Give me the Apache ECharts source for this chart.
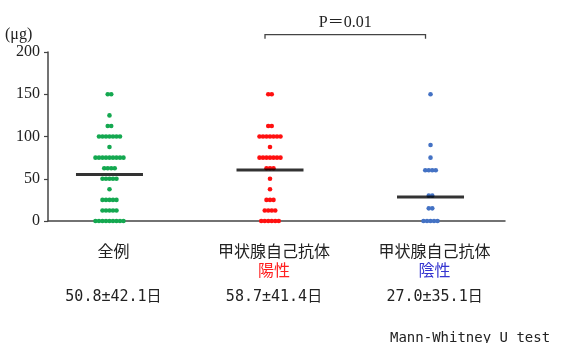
<!DOCTYPE html>
<html>
<head>
<meta charset="utf-8">
<script src="https://cdn.jsdelivr.net/npm/echarts@6/dist/echarts.min.js"></script>
<style>
html,body{margin:0;padding:0;background:#fff;}
#c{width:562px;height:343px;}
</style>
</head>
<body>
<div id="c"></div>
<script>
// ---- data ----
const categories = ['全例', '甲状腺自己抗体', '甲状腺自己抗体'];
const subLabels = ['', '陽性', '陰性'];
const statLabels = ['50.8±42.1日', '58.7±41.4日', '27.0±35.1日'];
const allValues = [
  150, 150, 125, 112.5, 112.5,
  100, 100, 100, 100, 100, 100, 100,
  87.5,
  75, 75, 75, 75, 75, 75, 75, 75, 75,
  62.5, 62.5, 62.5, 62.5,
  50, 50, 50, 50, 50,
  37.5,
  25, 25, 25, 25, 25,
  12.5, 12.5, 12.5, 12.5, 12.5,
  0, 0, 0, 0, 0, 0, 0, 0, 0
];
const positiveValues = [
  150, 150, 112.5, 112.5,
  100, 100, 100, 100, 100, 100, 100,
  87.5,
  75, 75, 75, 75, 75, 75, 75,
  62.5, 62.5, 62.5,
  50, 37.5,
  25, 25, 25,
  12.5, 12.5, 12.5, 12.5,
  0, 0, 0, 0, 0, 0
];
const negativeValues = [
  150, 90, 75,
  60, 60, 60, 60,
  30, 30,
  15, 15,
  0, 0, 0, 0, 0
];
const centerLines = [55, 60.5, 28.5];
const yMin = 0, yMax = 200, yInterval = 50;
const comparisonLabel = 'P＝0.01';
const footnote = 'Mann-Whitney U test';

// ---- layout ----
const groups = [allValues, positiveValues, negativeValues];
const colors = ['#14a850', '#ff1010', '#4472c4'];
const subColors = ['#222', '#ff2020', '#3535d0'];
const pxPerUnit = 160.5;
const stepUnits = 3.5 / pxPerUnit;

function swarm(values, gi) {
  const counts = {};
  values.forEach(v => { counts[v] = (counts[v] || 0) + 1; });
  const out = [];
  Object.keys(counts).forEach(k => {
    const n = counts[k];
    for (let j = 0; j < n; j++) {
      out.push([gi + (j - (n - 1) / 2) * stepUnits, Number(k)]);
    }
  });
  return out;
}

const chart = echarts.init(document.getElementById('c'), null, {renderer: 'canvas'});
const series = groups.map((vals, gi) => ({
  type: 'scatter',
  data: swarm(vals, gi),
  symbolSize: 4.6,
  itemStyle: {color: colors[gi], opacity: 1},
  z: 2,
  silent: true
}));
series.push({
  type: 'scatter',
  data: centerLines.map((v, i) => [i, v]),
  symbol: 'rect',
  symbolSize: [67, 3],
  itemStyle: {color: '#000'},
  z: 5,
  silent: true
});

chart.setOption({
  animation: false,
  grid: {left: 48, right: 57, top: 52, bottom: 122},
  xAxis: {
    type: 'value', min: -0.383, max: 2.464,
    axisLine: {show: true, onZero: false, lineStyle: {color: '#444', width: 1.5}},
    axisTick: {show: false}, axisLabel: {show: false}, splitLine: {show: false}
  },
  yAxis: {
    type: 'value', min: yMin, max: yMax, interval: yInterval,
    axisLine: {show: true, onZero: false, lineStyle: {color: '#444', width: 1.5}},
    axisTick: {show: true, length: 4, lineStyle: {color: '#444', width: 1.2}},
    axisLabel: {fontFamily: 'Liberation Serif', fontSize: 16, color: '#222', margin: 8},
    splitLine: {show: false}
  },
  series: series
});

const px = i => chart.convertToPixel({gridIndex: 0}, [i, 0])[0];
const py = v => chart.convertToPixel({gridIndex: 0}, [0, v])[1];
const cjk = '16px "Noto Sans CJK JP"';
const mono = '"DejaVu Sans Mono", "Noto Sans CJK JP"';
const elems = [];
elems.push({type: 'text', style: {text: '(μg)', x: 5, y: 35, textVerticalAlign: 'middle',
  font: '16px "Liberation Serif", "Noto Sans CJK JP"', fill: '#222'}});
categories.forEach((c, i) => {
  const x = px(i) + 4;
  elems.push({type: 'text', style: {text: c, x: x, y: 251, textAlign: 'center', textVerticalAlign: 'middle', font: cjk, fill: '#222'}});
  if (subLabels[i]) {
    elems.push({type: 'text', style: {text: subLabels[i], x: x, y: 270, textAlign: 'center', textVerticalAlign: 'middle', font: cjk, fill: subColors[i]}});
  }
  elems.push({type: 'text', style: {text: statLabels[i], x: x, y: 297, textAlign: 'center', textVerticalAlign: 'middle', font: '15px ' + mono, fill: '#222'}});
});
// comparison bracket between groups 1 and 2
const bx1 = px(1) - 5, bx2 = px(2) - 5, by = py(220.6), bd = py(215.6);
elems.push({type: 'polyline', shape: {points: [[bx1, bd], [bx1, by], [bx2, by], [bx2, bd]]},
  style: {stroke: '#444', lineWidth: 1.3, fill: null}});
elems.push({type: 'text', style: {text: comparisonLabel, x: (bx1 + bx2) / 2, y: 23, textAlign: 'center', textVerticalAlign: 'middle',
  font: '16px "Liberation Serif", "Noto Sans CJK JP"', fill: '#222'}});
elems.push({type: 'text', style: {text: footnote, x: 390, y: 338, textVerticalAlign: 'middle', font: '14px ' + mono, fill: '#222'}});
chart.setOption({graphic: elems});
</script>
</body>
</html>
